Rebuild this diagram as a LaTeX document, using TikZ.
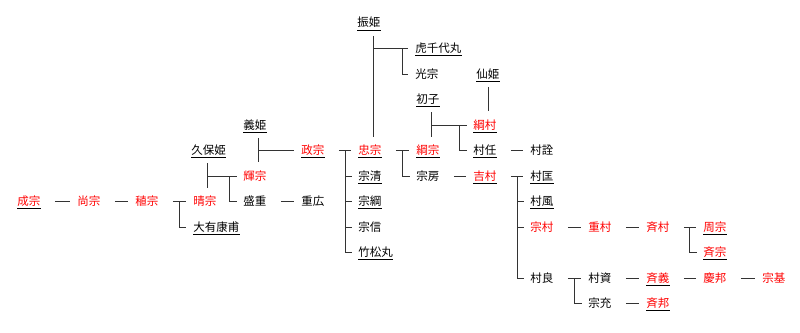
\documentclass[tikz,border=0pt]{standalone}
\usepackage{fontspec}
\newfontfamily\jpfont{Noto Sans CJK JP}
\tikzset{
  person/.style={anchor=west, inner sep=0pt, text height=9.5pt, text depth=1.5pt,
    font=\jpfont\fontsize{11.5}{12}\selectfont},
  heir/.style={person, text=red},
  link/.style={append after command={([yshift=-1pt]\tikzlastnode.south west)
    edge[draw=black, line width=0.9pt] ([yshift=-1pt]\tikzlastnode.south east)}},
  seq/.style={shorten <=14pt, shorten >=7pt},
  wed/.style={shorten <=7pt, shorten >=8pt},
}
\begin{document}
\begin{tikzpicture}[x=1pt, y=-1pt, line width=0.9pt, draw=black!80]
\useasboundingbox (0,0) rectangle (800,332);

% main line
\node[heir, link] (seimune) at (17,201.5) {成宗};
\node[heir] (hisamune) at (77,201.5) {尚宗};
\node[heir] (tanemune) at (135,201.5) {稙宗};
\node[heir] (harumune) at (193,201.5) {晴宗};
\node[person, link] (ohu) at (193,227) {大有康甫};
\node[person, link] (kubo) at (191,150.5) {久保姫};
\node[heir] (terumune) at (243,176) {輝宗};
\node[person] (morishige) at (243,201.5) {盛重};
\node[person] (shigehiro) at (301,201.5) {重広};
\node[person, link] (yoshi) at (243,125) {義姫};
\node[heir, link] (masamune) at (301,150.5) {政宗};

% Tadamune and his brothers
\node[person, link] (furi) at (357,23) {振姫};
\node[heir, link] (tadamune) at (358,150.5) {忠宗};
\node[person, link] (munekiyo) at (358,176) {宗清};
\node[person, link] (munetsuna) at (358,201.5) {宗綱};
\node[person] (munenobu) at (358,227) {宗信};
\node[person, link] (takematsu) at (358,252.5) {竹松丸};
\node[person, link] (torachiyo) at (415,48.5) {虎千代丸};
\node[person] (mitsumune) at (415,74) {光宗};

% Tsunamune, Munefusa
\node[person, link] (hatsu) at (416,99.5) {初子};
\node[heir, link] (tsunamune) at (416,150.5) {綱宗};
\node[person] (munefusa) at (416,176) {宗房};
\node[person, link] (sen) at (476,74) {仙姫};
\node[heir, link] (tsunamura) at (473,125) {綱村};
\node[person, link] (muratou) at (473,150.5) {村任};
\node[person] (muranori) at (530,150.5) {村詮};
\node[heir, link] (yoshimura) at (473,176) {吉村};

% Yoshimura's sons
\node[person, link] (muramasa) at (530,176) {村匡};
\node[person, link] (murakaze) at (530,201.5) {村風};
\node[heir] (munemura) at (530,227) {宗村};
\node[heir] (shigemura) at (588,227) {重村};
\node[heir] (narimura) at (646,227) {斉村};
\node[heir, link] (chikamune) at (703,227) {周宗};
\node[heir, link] (narimune) at (703,252.5) {斉宗};
\node[person] (murayoshi) at (530,278) {村良};
\node[person] (murasuke) at (588,278) {村資};
\node[person] (munemitsu) at (588,303.5) {宗充};
\node[heir, link] (nariyoshi) at (646,278) {斉義};
\node[heir] (yoshikuni) at (703,278) {慶邦};
\node[heir] (munemoto) at (762,278) {宗基};
\node[heir, link] (narikuni) at (646,303.5) {斉邦};

% connectors
\draw[seq] (seimune.east) -- (hisamune.west);
\draw[seq] (hisamune.east) -- (tanemune.west);
\draw[seq] (tanemune.east) -- (harumune.west);
\draw ([xshift=-14pt]harumune.west) |- ([xshift=-7pt]ohu.west);

\draw[wed] ([xshift=16pt]kubo.south west) -- ([xshift=16pt]kubo.south west |- harumune.north);
\draw ([xshift=16pt]kubo.west |- terumune.west) -- ([xshift=-6pt]terumune.west);
\draw ([xshift=-14pt]terumune.west) |- ([xshift=-6pt]morishige.west);
\draw[seq] (morishige.east) -- (shigehiro.west);

\draw[wed] ([xshift=15pt]yoshi.south west) -- ([xshift=15pt]yoshi.south west |- terumune.north);
\draw ([xshift=15pt]yoshi.west |- masamune.west) -- ([xshift=-7pt]masamune.west);

\draw[seq] (masamune.east) -- (tadamune.west);
\draw ([xshift=-13pt]tadamune.west) -- ([xshift=-13pt]takematsu.west);
\foreach \k in {munekiyo, munetsuna, munenobu, takematsu}
  \draw ([xshift=-13pt]\k.west) -- ([xshift=-6pt]\k.west);

\draw[wed] ([xshift=16pt]furi.south west) -- ([xshift=16pt]furi.south west |- tadamune.north);
\draw ([xshift=16pt]furi.west |- torachiyo.west) -- ([xshift=-7pt]torachiyo.west);
\draw ([xshift=-13pt]torachiyo.west) |- ([xshift=-7pt]mitsumune.west);

\draw[seq] (tadamune.east) -- (tsunamune.west);
\draw ([xshift=-14pt]tsunamune.west) |- ([xshift=-6pt]munefusa.west);
\draw[seq] (munefusa.east) -- (yoshimura.west);

\draw[wed] ([xshift=15pt]hatsu.south west) -- ([xshift=15pt]hatsu.south west |- tsunamune.north);
\draw ([xshift=15pt]hatsu.west |- tsunamura.west) -- ([xshift=-6pt]tsunamura.west);
\draw ([xshift=-14pt]tsunamura.west) |- ([xshift=-6pt]muratou.west);
\draw[wed] ([xshift=12pt]sen.south west) -- ([xshift=12pt]sen.south west |- tsunamura.north);
\draw[seq] (muratou.east) -- (muranori.west);

\draw[seq] (yoshimura.east) -- (muramasa.west);
\draw ([xshift=-13pt]muramasa.west) |- ([xshift=-6pt]murayoshi.west);
\foreach \k in {murakaze, munemura}
  \draw ([xshift=-13pt]\k.west) -- ([xshift=-6pt]\k.west);

\draw[seq] (munemura.east) -- (shigemura.west);
\draw[seq] (shigemura.east) -- (narimura.west);
\draw[seq] (narimura.east) -- (chikamune.west);
\draw ([xshift=-14pt]chikamune.west) |- ([xshift=-6pt]narimune.west);

\draw[seq] (murayoshi.east) -- (murasuke.west);
\draw ([xshift=-14pt]murasuke.west) |- ([xshift=-6pt]munemitsu.west);
\draw[seq] (murasuke.east) -- (nariyoshi.west);
\draw[seq] (nariyoshi.east) -- (yoshikuni.west);
\draw[seq] (yoshikuni.east) -- (munemoto.west);
\draw[seq] (munemitsu.east) -- (narikuni.west);
\end{tikzpicture}
\end{document}
